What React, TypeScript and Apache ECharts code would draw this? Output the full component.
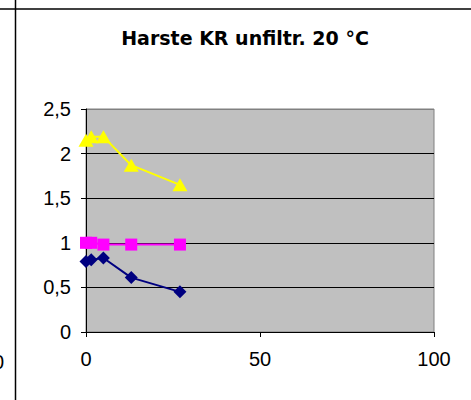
import React, { useEffect, useRef } from "react";
import * as echarts from "echarts";

const titleText = "Harste KR unfiltr. 20 °C";
const xValues = [0, 1.5, 5, 13, 27];
const yellowSeries = [2.15, 2.19, 2.19, 1.87, 1.65];
const magentaSeries = [1.0, 1.0, 0.98, 0.98, 0.98];
const navySeries = [0.79, 0.81, 0.83, 0.61, 0.45];
const xTicks = [0, 50, 100];
const yTicks = [0, 0.5, 1, 1.5, 2, 2.5];

const FONT = "'Liberation Sans', Arial, sans-serif";
const TITLE_FONT = "'DejaVu Sans', 'Liberation Sans', Arial, sans-serif";

function pairs(ys: number[]) {
  return xValues.map((x, i) => [x, ys[i]]);
}

export default function App() {
  const ref = useRef<HTMLDivElement>(null);
  useEffect(() => {
    if (!ref.current) return;
    const chart = echarts.init(ref.current, undefined, { renderer: "svg" });
    chart.setOption({
      animation: false,
      backgroundColor: "#ffffff",
      title: {
        text: titleText,
        left: 240,
        textAlign: "center",
        top: 23,
        textStyle: { fontFamily: TITLE_FONT, fontSize: 19, fontWeight: "bold", color: "#000" },
      },
      grid: {
        left: 86,
        top: 109,
        right: 37,
        bottom: 68,
        show: true,
        backgroundColor: "#C0C0C0",
        borderColor: "#808080",
        borderWidth: 1,
      },
      xAxis: {
        type: "value",
        min: xTicks[0],
        max: xTicks[xTicks.length - 1],
        interval: 50,
        axisLine: { show: true, lineStyle: { color: "#000", width: 1 } },
        axisTick: { show: true, inside: false, length: 5, lineStyle: { color: "#000" } },
        splitLine: { show: false },
        axisLabel: { fontFamily: FONT, fontSize: 20, color: "#000", margin: 17 },
      },
      yAxis: {
        type: "value",
        min: yTicks[0],
        max: yTicks[yTicks.length - 1],
        interval: 0.5,
        axisLine: { show: true, lineStyle: { color: "#000", width: 1 } },
        axisTick: { show: true, inside: false, length: 5, lineStyle: { color: "#000" } },
        splitLine: {
          show: true,
          lineStyle: { color: ["#000", "#000", "#000", "#000", "#000", "#808080"], width: 1 },
        },
        axisLabel: {
          fontFamily: FONT,
          fontSize: 20,
          color: "#000",
          margin: 15,
          formatter: (v: number) => String(v).replace(".", ","),
        },
      },
      series: [
        {
          type: "line",
          data: pairs(yellowSeries),
          symbol: "triangle",
          symbolSize: [15, 13],
          lineStyle: { color: "#FFFF00", width: 2 },
          itemStyle: { color: "#FFFF00" },
        },
        {
          type: "line",
          data: pairs(navySeries),
          symbol: "diamond",
          symbolSize: 13,
          lineStyle: { color: "#000080", width: 2 },
          itemStyle: { color: "#000080" },
        },
        {
          type: "line",
          data: pairs(magentaSeries),
          symbol: "rect",
          symbolSize: 12,
          lineStyle: { color: "#FF00FF", width: 2 },
          itemStyle: { color: "#FF00FF" },
        },
      ],
      graphic: [
        { type: "line", shape: { x1: 0, y1: 9, x2: 471, y2: 9 }, style: { stroke: "#000", lineWidth: 1.5 } },
        { type: "line", shape: { x1: 15.5, y1: 0, x2: 15.5, y2: 400 }, style: { stroke: "#000", lineWidth: 1.5 } },
        {
          type: "text",
          x: -7,
          y: 352,
          style: { text: "0", fontFamily: FONT, fontSize: 20, fill: "#000" },
        },
      ],
    });
    return () => chart.dispose();
  }, []);
  return <div ref={ref} style={{ width: 471, height: 400, position: "absolute", left: 0, top: 0 }} />;
}
